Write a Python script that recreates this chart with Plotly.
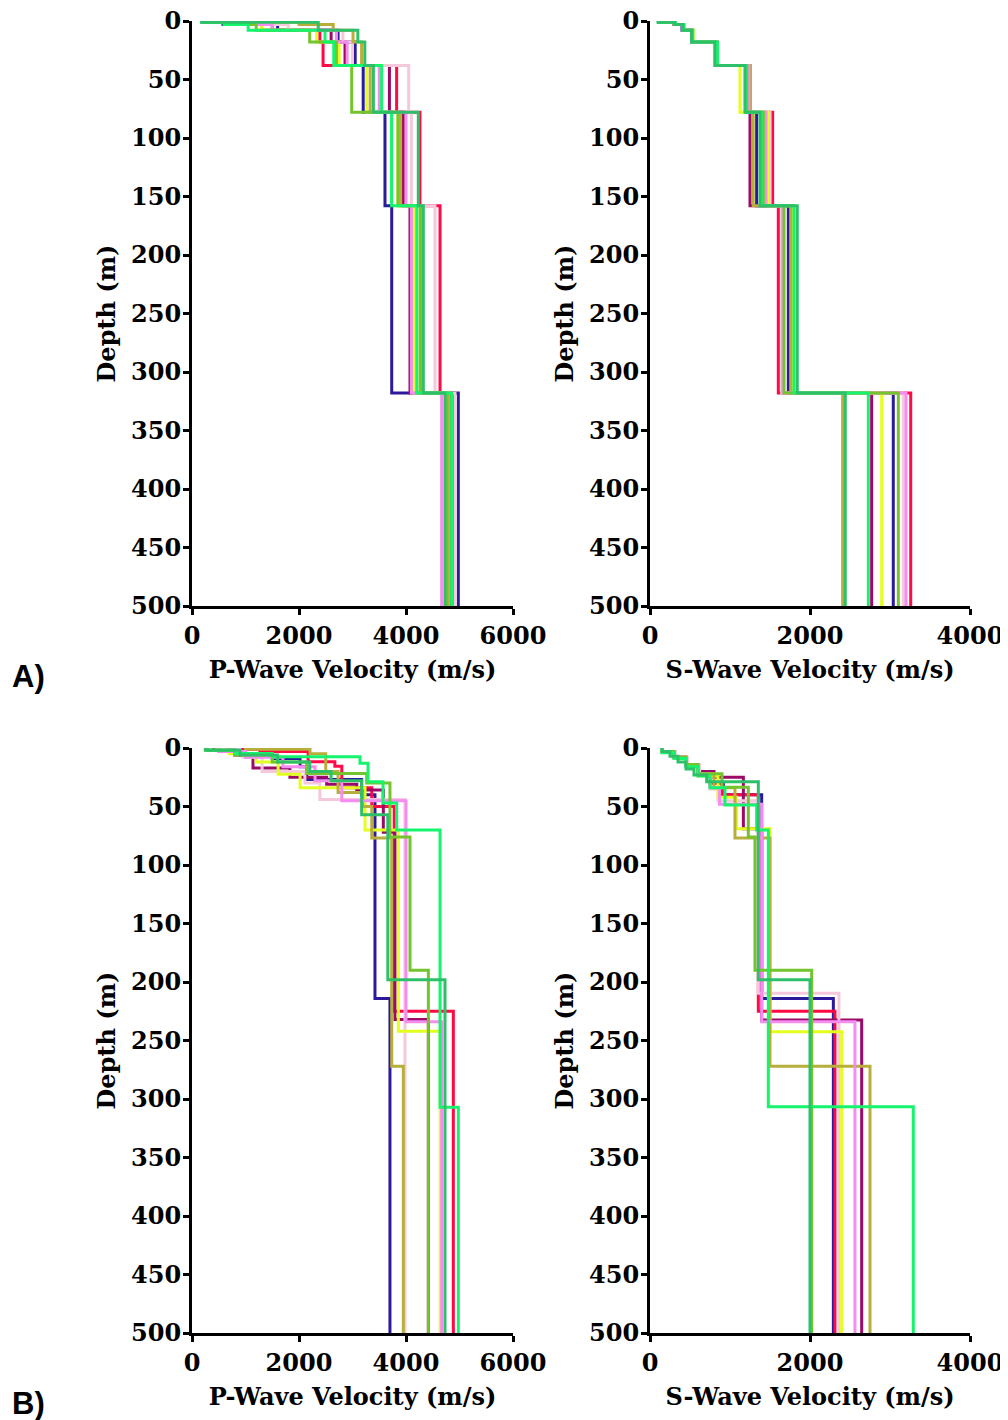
import plotly.graph_objects as go

# ---------------- data ----------------
SERIES = ["M1", "M2", "M3", "M4", "M5", "M6", "M7", "M8", "M9", "M10"]
COLORS = ["#2B1B9C", "#FF0A45", "#9B0A66", "#F5C8DC", "#E2FF1E",
          "#B8AE3C", "#F58CF0", "#74C42E", "#14F46C", "#2EC068"]

# Panel A: shared layer tops (m)
A_TOPS = [0, 1, 3, 8, 18, 38, 78, 158, 318]
A_VP = [
    [200, 580, 1600, 2730, 3050, 3200, 3607, 3733, 4978],
    [220, 900, 1300, 2390, 2450, 3825, 4260, 4636, 4900],
    [200, 800, 1500, 2600, 2860, 3690, 3950, 4075, 4850],
    [250, 1000, 1800, 2820, 3000, 4050, 4100, 4542, 4916],
    [230, 1115, 1300, 2330, 2750, 3265, 3850, 4137, 4800],
    [240, 2000, 2640, 3010, 3170, 3330, 3900, 4300, 4792],
    [210, 900, 1500, 2700, 2900, 3500, 4000, 4100, 4667],
    [200, 700, 1200, 2200, 2700, 2985, 3850, 4262, 4760],
    [180, 600, 1050, 2486, 2650, 3545, 3730, 4200, 4854],
    [180, 2360, 2360, 3100, 3230, 3390, 4230, 4324, 4729],
]
A_VS = [
    [110, 300, 400, 520, 830, 1229, 1333, 1729, 3041],
    [120, 320, 420, 530, 840, 1250, 1533, 1604, 3259],
    [110, 310, 410, 525, 820, 1240, 1250, 1771, 2771],
    [130, 320, 420, 535, 830, 1230, 1500, 1646, 3166],
    [120, 310, 430, 540, 815, 1125, 1470, 1790, 2896],
    [110, 300, 420, 530, 825, 1250, 1290, 1760, 2408],
    [120, 310, 410, 520, 830, 1235, 1450, 1660, 3200],
    [110, 305, 415, 525, 820, 1210, 1417, 1675, 3104],
    [120, 315, 425, 535, 845, 1200, 1390, 1800, 2729],
    [100, 310, 410, 520, 810, 1187, 1375, 1841, 2441],
]

# Panel B: per-model layer tops (m) and velocities (m/s)
B_P_TOPS = [
    [0, 2, 6, 9, 16, 27, 40, 214],
    [0, 1, 3, 11.7, 15.7, 34, 50, 225],
    [0, 2, 6, 17, 25, 31, 36, 72, 232],
    [0, 3, 8, 20, 30, 44],
    [0, 2, 5, 12, 22.5, 34, 70, 242],
    [0, 1, 5, 20, 38, 50, 77, 272],
    [0, 3, 8, 16, 28, 45, 234],
    [0, 2, 6, 12, 21.7, 30, 76, 190],
    [0, 2, 4.6, 7.4, 13, 28.8, 47, 70, 307],
    [0, 2, 6, 12, 20, 28, 57, 198],
]
B_VP = [
    [300, 900, 1500, 2020, 2144, 3171, 3420, 3700],
    [950, 1270, 2170, 2670, 2800, 3360, 3780, 4885],
    [400, 800, 1140, 1830, 2518, 3080, 3576, 3794, 4418],
    [600, 950, 1310, 2110, 2390, 3981],
    [250, 700, 1200, 1610, 2020, 3234, 3857, 4640],
    [1000, 2206, 2500, 2730, 3190, 3360, 3733, 3950],
    [500, 1000, 1700, 2300, 2800, 4000, 4667],
    [300, 800, 1500, 2144, 3265, 3700, 4075, 4418],
    [300, 800, 1500, 3140, 3290, 3570, 3826, 4636, 4978],
    [250, 900, 1600, 2200, 2600, 3171, 3660, 4729],
]
B_S_TOPS = [
    [0, 3, 8, 15, 22, 30, 40, 214],
    [0, 3, 8, 14, 22, 30, 40, 225],
    [0, 3, 8, 14, 20, 25, 69, 232.5],
    [0, 3, 8, 14, 22, 35, 45, 209.7],
    [0, 3, 8, 14, 24, 42, 69, 242.5],
    [0, 3, 8, 14, 22, 34, 77, 272],
    [0, 3, 8, 14, 22, 34, 48, 234],
    [0, 3, 8, 14, 22, 33.6, 76, 190],
    [0, 4, 9, 16, 24, 34, 48.7, 70, 306.6],
    [0, 3, 7, 12, 18, 23, 28.8, 198],
]
B_VS = [
    [150, 300, 450, 600, 750, 917, 1396, 2292],
    [150, 300, 450, 600, 750, 900, 1354, 2312],
    [150, 300, 450, 600, 800, 1167, 1396, 2646],
    [150, 320, 470, 620, 750, 850, 1354, 2362],
    [150, 300, 450, 600, 850, 1083, 1500, 2396],
    [150, 300, 450, 600, 800, 1062, 1500, 2750],
    [150, 300, 450, 600, 750, 870, 1396, 2562],
    [150, 300, 450, 600, 900, 1229, 1312, 2021],
    [150, 300, 450, 600, 750, 937, 1333, 1479, 3291],
    [150, 250, 350, 450, 550, 708, 1354, 2000],
]
MAX_DEPTH = 500
Y_TICKS = [0, 50, 100, 150, 200, 250, 300, 350, 400, 450, 500]

# ---------------- figure ----------------
OFF = 8                      # page body margin
W, H = 1008 - OFF, 1420 - OFF
fig = go.Figure()

def add_profiles(tops_list, vels_list, xa, ya):
    for i, (tops, vels) in enumerate(zip(tops_list, vels_list)):
        xs = list(vels) + [vels[-1]]
        ys = list(tops) + [MAX_DEPTH]
        fig.add_trace(go.Scatter(
            x=xs, y=ys, mode="lines", line_shape="vh",
            line=dict(color=COLORS[i], width=3),
            name=SERIES[i], showlegend=False, xaxis=xa, yaxis=ya,
            cliponaxis=False))

add_profiles([A_TOPS] * 10, A_VP, "x", "y")
add_profiles([A_TOPS] * 10, A_VS, "x2", "y2")
add_profiles(B_P_TOPS, B_VP, "x3", "y3")
add_profiles(B_S_TOPS, B_VS, "x4", "y4")

FONT = dict(family="DejaVu Serif", size=24, color="black", weight="bold")

def px_x(a, b):
    return [(a - OFF) / W, (b - OFF) / W]

def px_y(top, bot):
    return [1 - (bot - OFF) / H, 1 - (top - OFF) / H]

xl = px_x(192, 513)
xr = px_x(650, 970)
ya = px_y(21, 606)
yb = px_y(748, 1333)

common_ax = dict(showline=True, linecolor="black", linewidth=3,
                 ticks="outside", ticklen=6, tickwidth=3, tickcolor="black",
                 showgrid=False, zeroline=False, tickfont=FONT,
                 automargin=False, ticklabeloverflow="allow")

def xaxis(dom, rng, anchor, title):
    return dict(domain=dom, range=rng, anchor=anchor,
                tickvals=list(range(0, rng[1] + 1, 2000)),
                title=dict(text=title, font=FONT, standoff=13),
                ticklabelstandoff=0, **common_ax)

def yaxis(dom, anchor):
    return dict(domain=dom, range=[MAX_DEPTH, 0], anchor=anchor,
                tickvals=Y_TICKS,
                title=dict(text="Depth (m)", font=FONT, standoff=9),
                ticklabelstandoff=-3, **common_ax)

fig.update_layout(
    width=W, height=H,
    margin=dict(l=0, r=0, t=0, b=0),
    paper_bgcolor="white", plot_bgcolor="white",
    xaxis=xaxis(xl, [0, 6000], "y", "P-Wave Velocity (m/s)"),
    yaxis=yaxis(ya, "x"),
    xaxis2=xaxis(xr, [0, 4000], "y2", "S-Wave Velocity (m/s)"),
    yaxis2=yaxis(ya, "x2"),
    xaxis3=xaxis(xl, [0, 6000], "y3", "P-Wave Velocity (m/s)"),
    yaxis3=yaxis(yb, "x3"),
    xaxis4=xaxis(xr, [0, 4000], "y4", "S-Wave Velocity (m/s)"),
    yaxis4=yaxis(yb, "x4"),
)

LBL = dict(family="Liberation Sans", size=31, color="black", weight="bold")
fig.add_annotation(text="A)", xref="paper", yref="paper", x=(10 - OFF) / W,
                   y=1 - (676 - OFF) / H,
                   xanchor="left", yanchor="middle", showarrow=False, font=LBL)
fig.add_annotation(text="B)", xref="paper", yref="paper", x=(10 - OFF) / W,
                   y=1 - (1403 - OFF) / H,
                   xanchor="left", yanchor="middle", showarrow=False, font=LBL)

fig.write_html("out.html")
